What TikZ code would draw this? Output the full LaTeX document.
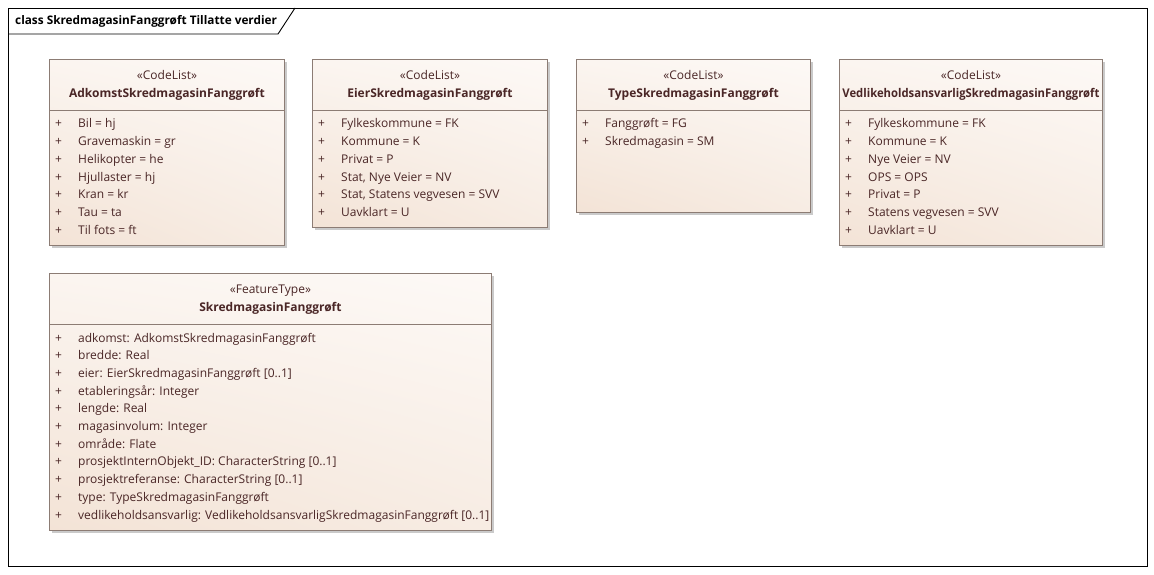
\documentclass[tikz,border=0pt]{standalone}
\usepackage{fontspec}
\setmainfont{Open Sans}
\usetikzlibrary{shadows,shadings}
\definecolor{bord}{HTML}{8C7C74}
\definecolor{txt}{HTML}{4A2626}
\definecolor{fUL}{HTML}{FBF5F0}
\definecolor{fUR}{HTML}{FDF9F6}
\definecolor{fLL}{HTML}{F3E3D6}
\definecolor{fLR}{HTML}{F7ECE3}
\tikzset{
  umlbox/.style={draw=bord, line width=0.9pt, anchor=north west, inner sep=0pt,
    upper left=fUL, upper right=fUR, lower left=fLL, lower right=fLR,
    drop shadow={shadow xshift=3pt, shadow yshift=-3pt, fill=black!35, opacity=0.6}},
  stereo/.style={text=txt, inner sep=0pt, anchor=base, font=\fontsize{12}{14}\selectfont},
  cname/.style={text=txt, inner sep=0pt, anchor=base, font=\fontsize{12}{14}\selectfont\bfseries},
  attr/.style={text=txt, inner sep=0pt, anchor=base west, font=\fontsize{12}{14}\selectfont},
  divline/.style={draw=bord, line width=0.9pt},
  frameline/.style={draw=black, line width=0.9pt},
}
\newcommand{\umlclass}[7]{% name, x, y, w, h, stereotype, classname
  \node[umlbox, minimum width=#4pt, minimum height=#5pt] (#1) at (#2,#3) {};
  \node[stereo] (#1-st) at ([yshift=-20.5pt]#1.north) {«#6»};
  \node[cname] (#1-nm) at ([yshift=-38.5pt]#1.north) {#7};
  \draw[divline] ([yshift=-51pt]#1.north west) -- ([yshift=-51pt]#1.north east);
}
\newcommand{\umlattrs}[2]{%
  \foreach \t [count=\i] in {#2} {
    \node[attr] (#1-p\i) at ([xshift=6pt, yshift={-69pt-(\i-1)*17.7pt}]#1.north west) {+};
    \node[attr] (#1-a\i) at ([xshift=29pt, yshift={-69pt-(\i-1)*17.7pt}]#1.north west) {\t};
  }
}
\begin{document}
\begin{tikzpicture}[x=1pt, y=-1pt]
\useasboundingbox (0,0) rectangle (1154,575);
\node[frameline, anchor=north west, minimum width=1139pt, minimum height=558pt, inner sep=0pt] (frame) at (8,8) {};
\coordinate (tabA) at ([yshift=-26pt]frame.north west);
\coordinate (tabB) at ([xshift=270pt, yshift=-26pt]frame.north west);
\coordinate (tabC) at ([xshift=287pt]frame.north west);
\draw[frameline] (tabA) -- (tabB) -- (tabC);
\node[inner sep=0pt, anchor=base west, font=\fontsize{11.8}{14}\selectfont\bfseries] (title) at (15,25) {class SkredmagasinFanggrøft Tillatte verdier};

\umlclass{adk}{49}{59}{235}{186}{CodeList}{AdkomstSkredmagasinFanggrøft}
\umlattrs{adk}{Bil = hj, Gravemaskin = gr, Helikopter = he, Hjullaster = hj, Kran = kr, Tau = ta, Til fots = ft}

\umlclass{eier}{312}{59}{235}{168}{CodeList}{EierSkredmagasinFanggrøft}
\umlattrs{eier}{Fylkeskommune = FK, Kommune = K, Privat = P, {Stat, Nye Veier = NV}, {Stat, Statens vegvesen = SVV}, Uavklart = U}

\umlclass{type}{576}{59}{234}{153}{CodeList}{TypeSkredmagasinFanggrøft}
\umlattrs{type}{Fanggrøft = FG, Skredmagasin = SM}

\umlclass{vedl}{839}{59}{263}{186}{CodeList}{\scalebox{0.94}[1]{VedlikeholdsansvarligSkredmagasinFanggrøft}}
\umlattrs{vedl}{Fylkeskommune = FK, Kommune = K, Nye Veier = NV, OPS = OPS, Privat = P, Statens vegvesen = SVV, Uavklart = U}

\umlclass{feat}{49}{273}{442}{257}{FeatureType}{SkredmagasinFanggrøft}
\umlattrs{feat}{adkomst: AdkomstSkredmagasinFanggrøft, bredde: Real, eier: EierSkredmagasinFanggrøft [0..1], etableringsår: Integer, lengde: Real, magasinvolum: Integer, område: Flate, prosjektInternObjekt\_ID: CharacterString [0..1], prosjektreferanse: CharacterString [0..1], type: TypeSkredmagasinFanggrøft, vedlikeholdsansvarlig: VedlikeholdsansvarligSkredmagasinFanggrøft [0..1]}
\end{tikzpicture}
\end{document}
